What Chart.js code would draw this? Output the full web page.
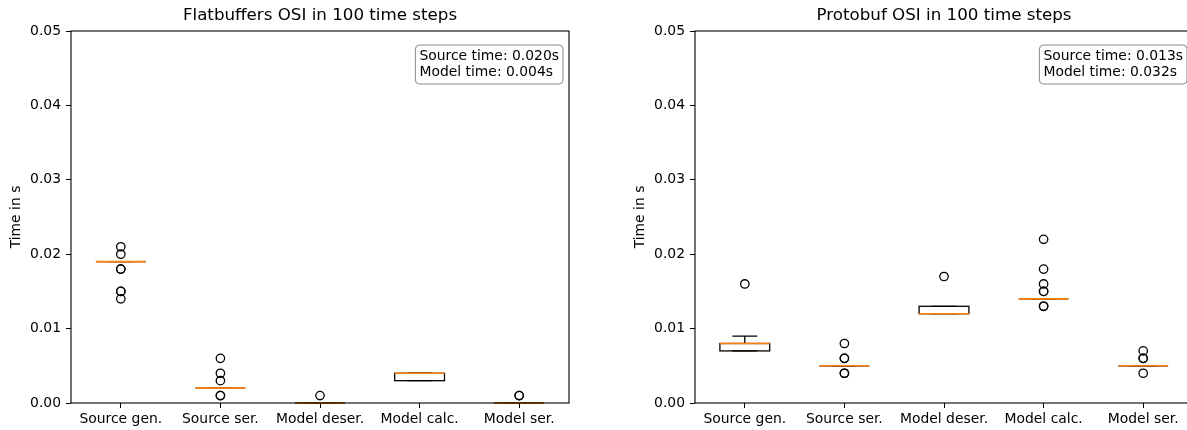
<!DOCTYPE html>
<html>
<head>
<meta charset="utf-8">
<script src="https://cdn.jsdelivr.net/npm/chart.js@4.4.0/dist/chart.umd.min.js"></script>
<style>
  html, body { margin: 0; padding: 0; background: #fff; overflow: hidden; width: 1187px; height: 430px; }
  .wrap { position: absolute; top: 0; width: 590px; height: 430px; }
</style>
</head>
<body>
<div class="wrap" style="left:0"><canvas id="fb"></canvas></div>
<div class="wrap" style="left:624px"><canvas id="pb"></canvas></div>
<script>
// box plot stats (seconds)
const categories = ['Source gen.', 'Source ser.', 'Model deser.', 'Model calc.', 'Model ser.'];
const yTicks = [0, 0.01, 0.02, 0.03, 0.04, 0.05];

const fbLow  = [0.019, 0.002, 0, 0.003, 0];
const fbQ1   = [0.019, 0.002, 0, 0.003, 0];
const fbMed  = [0.019, 0.002, 0, 0.004, 0];
const fbQ3   = [0.019, 0.002, 0, 0.004, 0];
const fbHigh = [0.019, 0.002, 0, 0.004, 0];
const fbOutliers = [
  [0.021, 0.020, 0.018, 0.018, 0.015, 0.015, 0.014],
  [0.006, 0.004, 0.003, 0.001, 0.001],
  [0.001],
  [],
  [0.001, 0.001]
];
const fbText = ['Source time: 0.020s', 'Model time: 0.004s'];

const pbLow  = [0.007, 0.005, 0.012, 0.014, 0.005];
const pbQ1   = [0.007, 0.005, 0.012, 0.014, 0.005];
const pbMed  = [0.008, 0.005, 0.012, 0.014, 0.005];
const pbQ3   = [0.008, 0.005, 0.013, 0.014, 0.005];
const pbHigh = [0.009, 0.005, 0.013, 0.014, 0.005];
const pbOutliers = [
  [0.016],
  [0.008, 0.006, 0.006, 0.004, 0.004],
  [0.017],
  [0.022, 0.018, 0.016, 0.015, 0.015, 0.013, 0.013],
  [0.007, 0.006, 0.006, 0.004]
];
const pbText = ['Source time: 0.013s', 'Model time: 0.032s'];

const FONT = 'DejaVu Sans, sans-serif';

function makeChart(id, title, low, q1, med, q3, high, outliers, boxText){
  const points = [];
  outliers.forEach((arr, i) => arr.forEach(v => points.push({ x: categories[i], y: v })));

  const boxes = {
    id: 'boxes',
    beforeDatasetsDraw(chart){
      const ctx = chart.ctx, xs = chart.scales.x, ys = chart.scales.y;
      const half = (xs.getPixelForValue(1) - xs.getPixelForValue(0)) * 0.25;
      ctx.save();
      ctx.lineWidth = 1.3;
      ctx.strokeStyle = '#000';
      med.forEach((m, i) => {
        const cx = xs.getPixelForValue(i);
        const yLo = ys.getPixelForValue(low[i]), yHi = ys.getPixelForValue(high[i]);
        const y1 = ys.getPixelForValue(q1[i]), y3 = ys.getPixelForValue(q3[i]);
        // whiskers + caps
        ctx.beginPath();
        ctx.moveTo(cx, y1); ctx.lineTo(cx, yLo);
        ctx.moveTo(cx, y3); ctx.lineTo(cx, yHi);
        ctx.moveTo(cx - half / 2, yLo); ctx.lineTo(cx + half / 2, yLo);
        ctx.moveTo(cx - half / 2, yHi); ctx.lineTo(cx + half / 2, yHi);
        ctx.stroke();
        // box
        ctx.strokeRect(cx - half, y3, half * 2, y1 - y3);
        // median
        const ym = ys.getPixelForValue(m);
        ctx.save();
        ctx.strokeStyle = '#ff7f0e';
        ctx.lineWidth = 1.6;
        ctx.beginPath(); ctx.moveTo(cx - half, ym); ctx.lineTo(cx + half, ym); ctx.stroke();
        ctx.restore();
      });
      ctx.restore();
    },
    afterDraw(chart){
      const ctx = chart.ctx, a = chart.chartArea;
      ctx.save();
      // frame
      ctx.lineWidth = 1.1;
      ctx.strokeStyle = '#000';
      ctx.strokeRect(a.left, a.top, a.right - a.left, a.bottom - a.top);
      // title
      ctx.fillStyle = '#000';
      ctx.font = '16.7px ' + FONT;
      ctx.textAlign = 'center'; ctx.textBaseline = 'middle';
      ctx.fillText(title, (a.left + a.right) / 2, 16);
      // text box
      ctx.font = '13.9px ' + FONT;
      const w = Math.max(...boxText.map(t => ctx.measureText(t).width)) + 8;
      const bx = a.right - 6 - w, by = a.top + 14, bh = 39;
      ctx.fillStyle = '#fff';
      ctx.strokeStyle = '#8a8a8a'; ctx.lineWidth = 1;
      ctx.beginPath(); ctx.roundRect(bx, by, w, bh, 4); ctx.fill(); ctx.stroke();
      ctx.fillStyle = '#000'; ctx.textAlign = 'left';
      ctx.fillText(boxText[0], bx + 4, by + 11);
      ctx.fillText(boxText[1], bx + 4, by + 27);
      ctx.restore();
    }
  };

  return new Chart(document.getElementById(id), {
    type: 'scatter',
    data: {
      labels: categories,
      datasets: [{
        data: points,
        pointRadius: 4.2,
        pointBackgroundColor: 'rgba(0,0,0,0)',
        pointBorderColor: '#000',
        pointBorderWidth: 1.3
      }]
    },
    options: {
      responsive: true, maintainAspectRatio: false,
      animation: false, events: [],
      layout: { padding: { top: 31, right: 21, left: 0, bottom: 0 } },
      plugins: { legend: { display: false }, tooltip: { enabled: false } },
      scales: {
        x: {
          type: 'category', labels: categories, offset: true,
          grid: { display: true, offset: false, drawOnChartArea: false, drawTicks: true, tickLength: 5, color: '#000' },
          border: { display: false },
          ticks: { color: '#000', padding: 3, maxRotation: 0, autoSkip: false, font: { family: FONT, size: 13.9 } },
          afterFit: s => { s.height = 27; }
        },
        y: {
          min: 0, max: 0.05,
          afterBuildTicks: s => { s.ticks = yTicks.map(v => ({ value: v })); },
          grid: { display: true, drawOnChartArea: false, drawTicks: true, tickLength: 5, color: '#000' },
          border: { display: false },
          ticks: { color: '#000', padding: 5, font: { family: FONT, size: 13.9 }, callback: v => v.toFixed(2) },
          title: { display: true, text: 'Time in s', color: '#000', padding: { top: 8, bottom: 0 }, font: { family: FONT, size: 13.9 } },
          afterFit: s => { s.width = 71; }
        }
      }
    },
    plugins: [boxes]
  });
}

makeChart('fb', 'Flatbuffers OSI in 100 time steps', fbLow, fbQ1, fbMed, fbQ3, fbHigh, fbOutliers, fbText);
makeChart('pb', 'Protobuf OSI in 100 time steps', pbLow, pbQ1, pbMed, pbQ3, pbHigh, pbOutliers, pbText);
</script>
</body>
</html>
